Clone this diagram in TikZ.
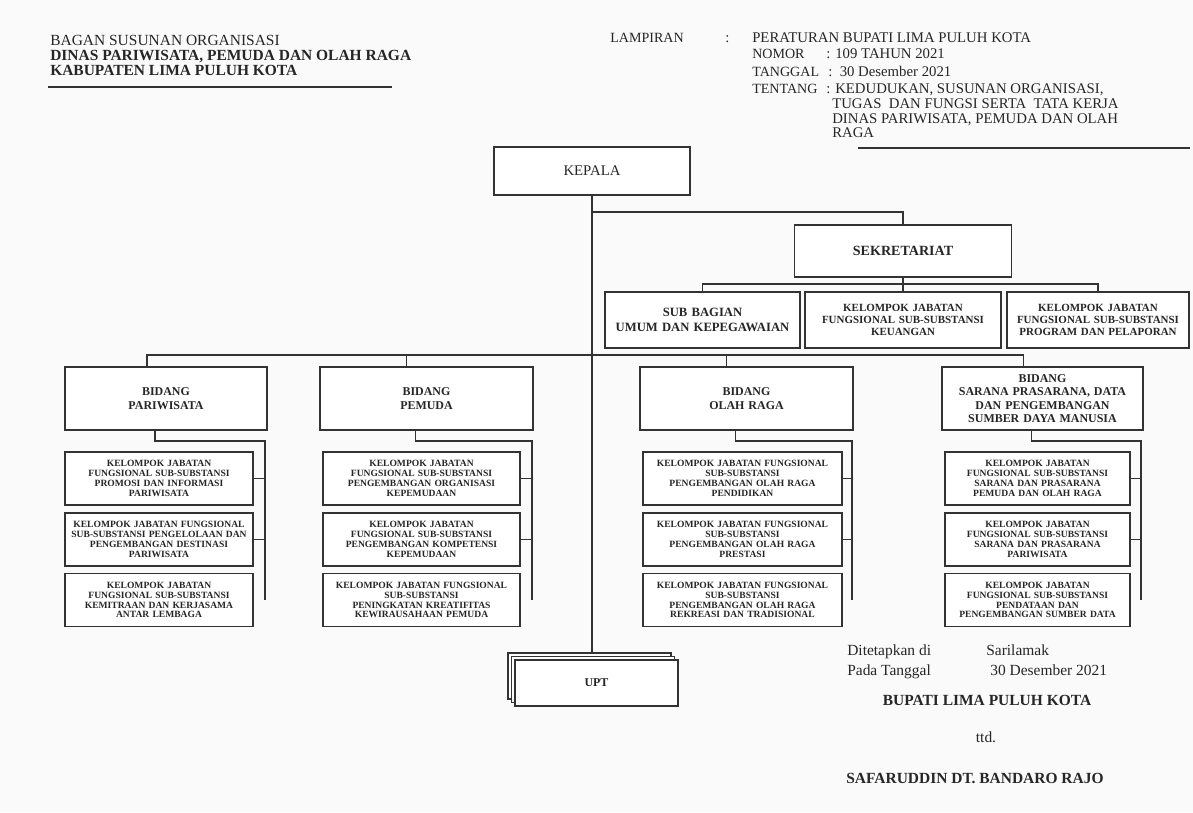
\documentclass[tikz,border=0pt]{standalone}
\usepackage{fontspec}
\setmainfont{Liberation Serif}
\usepackage{tikz}

\begin{document}
\begin{tikzpicture}[x=0.025cm, y=-0.025cm,
	every node/.style={inner sep=0pt, text=black!85},
	garis/.style={draw=black!80, line width=0.9pt},
	kotak/.style={garis, fill=white, align=center, inner ysep=2pt, font=\bfseries\fontsize{6.8}{7}\selectfont},
	sub/.style={kotak, text width=#1, minimum height=1.325cm},
	bidang/.style={kotak, text width=#1, minimum height=1.575cm, font=\bfseries\fontsize{8.5}{9.6}\selectfont},
	teks/.style={anchor=base west, font=\fontsize{10.5}{12}\selectfont},
	label/.style={anchor=base west, font=\fontsize{10}{12}\selectfont},
	tebal/.style={anchor=base, font=\bfseries\fontsize{11}{12}\selectfont}]
	\fill[black!2] (0,0) rectangle (1193,812);
	\useasboundingbox (0,0) rectangle (1193,812);

	\node[teks, font=\fontsize{11}{12}\selectfont] (bagan) at (50,45) {BAGAN SUSUNAN ORGANISASI};
	\node[teks, font=\bfseries\fontsize{11}{12}\selectfont] (dinas) at (50,60) {DINAS PARIWISATA, PEMUDA DAN OLAH RAGA};
	\node[teks, font=\bfseries\fontsize{11}{12}\selectfont] (kab) at (50,75) {KABUPATEN LIMA PULUH KOTA};
	\draw[line width=1.2pt, black!80] (48,87) -- (392,87);

	\node[label] (lampiran) at (610,42) {LAMPIRAN};
	\node[teks] (titik) at (725,42) {:};
	\node[teks] (peraturan) at (752,42) {PERATURAN BUPATI LIMA PULUH KOTA};
	\node[label] (nomor) at (752,58) {NOMOR};
	\node[teks] (nomorisi) at (826,58) {: 109 TAHUN 2021};
	\node[label] (tanggal) at (752,76) {TANGGAL};
	\node[teks] (tanggalisi) at (828,76) {:\ \ 30 Desember 2021};
	\node[label] (tentang) at (752,93) {TENTANG};
	\node[teks] (tentang1) at (826,93) {: KEDUDUKAN, SUSUNAN ORGANISASI,};
	\node[teks] (tentang2) at (832,108) {TUGAS\ \ DAN FUNGSI SERTA\ \ TATA KERJA};
	\node[teks] (tentang3) at (832,123) {DINAS PARIWISATA, PEMUDA DAN OLAH};
	\node[teks] (tentang4) at (832,137) {RAGA};
	\draw[line width=1pt, black!80] (858,148) -- (1190,148);

	\node[kotak, minimum width=4.9cm, minimum height=1.2cm, font=\fontsize{10.5}{11}\selectfont] (kepala) at (592,171) {KEPALA};
	\node[kotak, minimum width=5.425cm, minimum height=1.3cm, font=\bfseries\fontsize{10}{11}\selectfont] (sek) at (903,251) {SEKRETARIAT};
	\node[sub=4.875cm, minimum height=1.4cm, font=\bfseries\fontsize{9}{10.5}\selectfont] (subum) at (702.5,320) {SUB BAGIAN\\UMUM DAN KEPEGAWAIAN};
	\node[sub=4.9cm, minimum height=1.4cm, font=\bfseries\fontsize{7.8}{8.6}\selectfont] (keu) at (903,320) {KELOMPOK JABATAN\\FUNGSIONAL SUB-SUBSTANSI\\KEUANGAN};
	\node[sub=4.55cm, minimum height=1.4cm, font=\bfseries\fontsize{7.8}{8.6}\selectfont] (prog) at (1098,320) {KELOMPOK JABATAN\\FUNGSIONAL SUB-SUBSTANSI\\PROGRAM DAN PELAPORAN};

	\node[bidang=5.05cm] (par) at (166,398.5) {BIDANG\\PARIWISATA};
	\node[bidang=5.325cm] (pem) at (426.5,398.5) {BIDANG\\PEMUDA};
	\node[bidang=5.325cm] (olah) at (746.5,398.5) {BIDANG\\OLAH RAGA};
	\node[bidang=5.025cm] (sar) at (1042.5,398.5) {BIDANG\\SARANA PRASARANA, DATA\\DAN PENGEMBANGAN\\SUMBER DAYA MANUSIA};

	\node[sub=4.7cm] (par1) at (159,478.5) {KELOMPOK JABATAN\\FUNGSIONAL SUB-SUBSTANSI\\PROMOSI DAN INFORMASI\\PARIWISATA};
	\node[sub=4.7cm] (par2) at (159,539.5) {KELOMPOK JABATAN FUNGSIONAL\\SUB-SUBSTANSI PENGELOLAAN DAN\\PENGEMBANGAN DESTINASI\\PARIWISATA};
	\node[sub=4.7cm] (par3) at (159,600) {KELOMPOK JABATAN\\FUNGSIONAL SUB-SUBSTANSI\\KEMITRAAN DAN KERJASAMA\\ANTAR LEMBAGA};

	\node[sub=4.925cm] (pem1) at (421.5,478.5) {KELOMPOK JABATAN\\FUNGSIONAL SUB-SUBSTANSI\\PENGEMBANGAN ORGANISASI\\KEPEMUDAAN};
	\node[sub=4.925cm] (pem2) at (421.5,539.5) {KELOMPOK JABATAN\\FUNGSIONAL SUB-SUBSTANSI\\PENGEMBANGAN KOMPETENSI\\KEPEMUDAAN};
	\node[sub=4.925cm] (pem3) at (421.5,600) {KELOMPOK JABATAN FUNGSIONAL\\SUB-SUBSTANSI\\PENINGKATAN KREATIFITAS\\KEWIRAUSAHAAN PEMUDA};

	\node[sub=4.975cm] (olah1) at (742.5,478.5) {KELOMPOK JABATAN FUNGSIONAL\\SUB-SUBSTANSI\\PENGEMBANGAN OLAH RAGA\\PENDIDIKAN};
	\node[sub=4.975cm] (olah2) at (742.5,539.5) {KELOMPOK JABATAN FUNGSIONAL\\SUB-SUBSTANSI\\PENGEMBANGAN OLAH RAGA\\PRESTASI};
	\node[sub=4.975cm] (olah3) at (742.5,600) {KELOMPOK JABATAN FUNGSIONAL\\SUB-SUBSTANSI\\PENGEMBANGAN OLAH RAGA\\REKREASI DAN TRADISIONAL};

	\node[sub=4.625cm] (sar1) at (1037.5,478.5) {KELOMPOK JABATAN\\FUNGSIONAL SUB-SUBSTANSI\\SARANA DAN PRASARANA\\PEMUDA DAN OLAH RAGA};
	\node[sub=4.625cm] (sar2) at (1037.5,539.5) {KELOMPOK JABATAN\\FUNGSIONAL SUB-SUBSTANSI\\SARANA DAN PRASARANA\\PARIWISATA};
	\node[sub=4.625cm] (sar3) at (1037.5,600) {KELOMPOK JABATAN\\FUNGSIONAL SUB-SUBSTANSI\\PENDATAAN DAN\\PENGEMBANGAN SUMBER DATA};

	\node[kotak, minimum width=4.075cm, minimum height=1.15cm] (upt3) at (589.5,676) {};
	\node[kotak, minimum width=4.075cm, minimum height=1.15cm] (upt2) at (593,679.5) {};
	\node[kotak, minimum width=4.075cm, minimum height=1.15cm, font=\bfseries\fontsize{8.5}{9}\selectfont] (upt) at (596.5,683) {UPT};

	\coordinate (cabsek) at (592,212);
	\coordinate (cabsub) at (903,284);
	\coordinate (cabbid) at (592,355);
	\coordinate (jpar) at (265,441);
	\coordinate (jpem) at (532,441);
	\coordinate (jolah) at (852,441);
	\coordinate (jsar) at (1141,441);

	\draw[garis] (kepala.south) -- (kepala.south |- upt3.north);
	\draw[garis] (cabsek) -| (sek.north);
	\draw[garis] (sek.south) -- (keu.north);
	\draw[garis] (subum.north) |- (cabsub) -| (prog.north);
	\draw[garis] ([xshift=-0.475cm]par.north) |- (cabbid) -| ([xshift=-0.475cm]sar.north);
	\draw[garis] ([xshift=-0.5cm]pem.north) -- ([xshift=-0.5cm]pem.north |- cabbid);
	\draw[garis] ([xshift=-0.5cm]olah.north) -- ([xshift=-0.5cm]olah.north |- cabbid);

	\draw[garis] ([xshift=-0.275cm]par.south) |- (jpar) -- (jpar |- par3.east);
	\draw[garis] ([xshift=-0.275cm]pem.south) |- (jpem) -- (jpem |- pem3.east);
	\draw[garis] ([xshift=-0.275cm]olah.south) |- (jolah) -- (jolah |- olah3.east);
	\draw[garis] ([xshift=-0.275cm]sar.south) |- (jsar) -- (jsar |- sar3.east);
	\draw[garis] (par1.east) -- (par1.east -| jpar) (par2.east) -- (par2.east -| jpar);
	\draw[garis] (pem1.east) -- (pem1.east -| jpem) (pem2.east) -- (pem2.east -| jpem);
	\draw[garis] (olah1.east) -- (olah1.east -| jolah) (olah2.east) -- (olah2.east -| jolah);
	\draw[garis] (sar1.east) -- (sar1.east -| jsar) (sar2.east) -- (sar2.east -| jsar);

	\node[teks, font=\fontsize{11}{12}\selectfont] (ditetapkan) at (847,655) {Ditetapkan di};
	\node[teks, font=\fontsize{11}{12}\selectfont] (tempat) at (986,655) {Sarilamak};
	\node[teks, font=\fontsize{11}{12}\selectfont] (pada) at (847,675) {Pada Tanggal};
	\node[teks, font=\fontsize{11}{12}\selectfont] (tgl) at (990,675) {30 Desember 2021};
	\node[tebal] (bupati) at (987,705) {BUPATI LIMA PULUH KOTA};
	\node[anchor=base, font=\fontsize{11}{12}\selectfont] (ttd) at (986,742) {ttd.};
	\node[tebal] (nama) at (975,783) {SAFARUDDIN DT. BANDARO RAJO};
\end{tikzpicture}
\end{document}
